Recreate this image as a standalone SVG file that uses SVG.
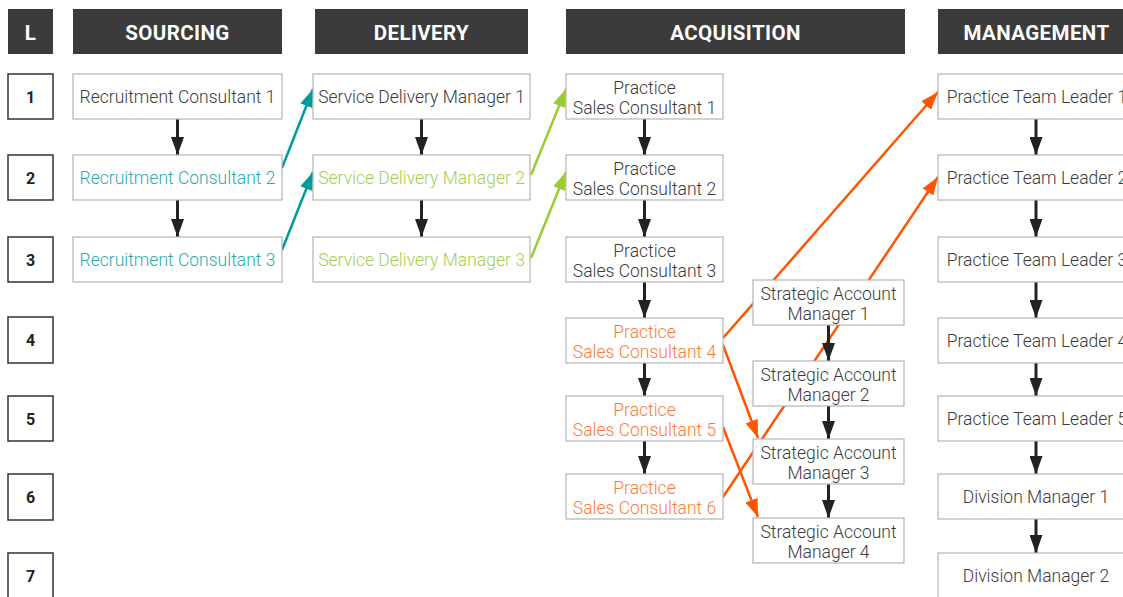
<svg xmlns="http://www.w3.org/2000/svg" width="1123" height="597" viewBox="0 0 1123 597">
<style>
.hdr{fill:#3b3b3b}
.hdrt{font-family:Roboto,"Liberation Sans",sans-serif;font-weight:700;font-size:20.5px;letter-spacing:0.4px;fill:#ffffff;text-anchor:middle}
.lvl{fill:#ffffff;stroke:#333333;stroke-width:1.5}
.lvlt{font-family:Roboto,"Liberation Sans",sans-serif;font-weight:700;font-size:16px;fill:#222222;text-anchor:middle}
.box{fill:#ffffff;stroke:#b5b5b5;stroke-width:1.2}
.t{font-family:Roboto,"Liberation Sans",sans-serif;font-weight:300;font-size:17.5px;fill:#3a3a3a;text-anchor:middle}
.teal{fill:#2aabab}
.green{fill:#a3cf4f}
.orange{fill:#ff7a3a}
.blk{stroke:#222222;stroke-width:3;fill:none;marker-end:url(#ab)}
.lt{stroke:#009c9c;stroke-width:2.5;fill:none;marker-end:url(#at)}
.lg{stroke:#9acd32;stroke-width:2.5;fill:none;marker-end:url(#ag)}
.lo{stroke:#ff5500;stroke-width:2.5;fill:none;marker-end:url(#ao)}
</style>
<defs>
<marker id="ab" markerUnits="userSpaceOnUse" markerWidth="18" markerHeight="13" refX="18" refY="6.5" orient="auto"><path d="M0,0 L18,6.5 L0,13 z" fill="#222222"/></marker>
<marker id="at" markerUnits="userSpaceOnUse" markerWidth="18" markerHeight="13" refX="18" refY="6.5" orient="auto"><path d="M0,0 L18,6.5 L0,13 z" fill="#009c9c"/></marker>
<marker id="ag" markerUnits="userSpaceOnUse" markerWidth="18" markerHeight="13" refX="18" refY="6.5" orient="auto"><path d="M0,0 L18,6.5 L0,13 z" fill="#9acd32"/></marker>
<marker id="ao" markerUnits="userSpaceOnUse" markerWidth="18" markerHeight="13" refX="18" refY="6.5" orient="auto"><path d="M0,0 L18,6.5 L0,13 z" fill="#ff5500"/></marker>
</defs>
<rect x="0" y="0" width="1123" height="597" fill="#ffffff"/>

<g id="headers">
<rect class="hdr" x="8" y="9" width="45" height="45"/><text class="hdrt" x="30.5" y="39.5">L</text>
<rect class="hdr" x="73" y="9" width="209" height="45"/><text class="hdrt" x="177.5" y="39.5">SOURCING</text>
<rect class="hdr" x="315" y="9" width="213" height="45"/><text class="hdrt" x="421.5" y="39.5">DELIVERY</text>
<rect class="hdr" x="566" y="9" width="339" height="45"/><text class="hdrt" x="735.5" y="39.5">ACQUISITION</text>
<rect class="hdr" x="938" y="9" width="200" height="45"/><text class="hdrt" x="1036.5" y="39.5">MANAGEMENT</text>
</g>

<g id="levels">
<g id="lvl1"><rect class="lvl" x="8" y="74" width="45" height="45"/><text class="lvlt" x="30.5" y="102.5">1</text></g>
<g id="lvl2"><rect class="lvl" x="8" y="155" width="45" height="45"/><text class="lvlt" x="30.5" y="183.5">2</text></g>
<g id="lvl3"><rect class="lvl" x="8" y="237" width="45" height="45"/><text class="lvlt" x="30.5" y="265.5">3</text></g>
<g id="lvl4"><rect class="lvl" x="8" y="317" width="45" height="46"/><text class="lvlt" x="30.5" y="346">4</text></g>
<g id="lvl5"><rect class="lvl" x="8" y="396" width="45" height="45"/><text class="lvlt" x="30.5" y="424.5">5</text></g>
<g id="lvl6"><rect class="lvl" x="8" y="474" width="45" height="46"/><text class="lvlt" x="30.5" y="503">6</text></g>
<g id="lvl7"><rect class="lvl" x="8" y="553" width="45" height="46"/><text class="lvlt" x="30.5" y="582">7</text></g>
</g>

<g id="connectors">
<line class="lo" x1="723" y1="338" x2="938" y2="92"/>
<line class="lo" x1="723" y1="497" x2="938" y2="177"/>
<line class="lo" x1="723" y1="345" x2="758" y2="438"/>
<line class="lo" x1="723" y1="427" x2="758" y2="517"/>
<line class="lt" x1="282" y1="168" x2="313" y2="89"/>
<line class="lt" x1="282" y1="250" x2="313" y2="172"/>
<line class="lg" x1="531" y1="175" x2="566" y2="89"/>
<line class="lg" x1="531" y1="258" x2="566" y2="172"/>
<line class="blk" x1="177.5" y1="119" x2="177.5" y2="155"/>
<line class="blk" x1="177.5" y1="200" x2="177.5" y2="237"/>
<line class="blk" x1="421.5" y1="119" x2="421.5" y2="155"/>
<line class="blk" x1="421.5" y1="200" x2="421.5" y2="237"/>
<line class="blk" x1="644.5" y1="119" x2="644.5" y2="155"/>
<line class="blk" x1="644.5" y1="200" x2="644.5" y2="237"/>
<line class="blk" x1="644.5" y1="282" x2="644.5" y2="318"/>
<line class="blk" x1="644.5" y1="363" x2="644.5" y2="396"/>
<line class="blk" x1="644.5" y1="441" x2="644.5" y2="474"/>
<line class="blk" x1="828.5" y1="325" x2="828.5" y2="361"/>
<line class="blk" x1="828.5" y1="406" x2="828.5" y2="439"/>
<line class="blk" x1="828.5" y1="484" x2="828.5" y2="518"/>
<line class="blk" x1="1036" y1="119" x2="1036" y2="155"/>
<line class="blk" x1="1036" y1="200" x2="1036" y2="237"/>
<line class="blk" x1="1036" y1="282" x2="1036" y2="318"/>
<line class="blk" x1="1036" y1="363" x2="1036" y2="396"/>
<line class="blk" x1="1036" y1="441" x2="1036" y2="474"/>
<line class="blk" x1="1036" y1="519" x2="1036" y2="553"/>
</g>

<g id="rc1"><rect class="box" x="73" y="74" width="209" height="45"/><text class="t" x="177.5" y="103">Recruitment Consultant 1</text></g>
<g id="rc2"><rect class="box" x="73" y="155" width="209" height="45"/><text class="t teal" x="177.5" y="184">Recruitment Consultant 2</text></g>
<g id="rc3"><rect class="box" x="73" y="237" width="209" height="45"/><text class="t teal" x="177.5" y="266">Recruitment Consultant 3</text></g>

<g id="sdm1"><rect class="box" x="313" y="74" width="217" height="45"/><text class="t" x="421.5" y="103">Service Delivery Manager 1</text></g>
<g id="sdm2"><rect class="box" x="313" y="155" width="217" height="45"/><text class="t green" x="421.5" y="184">Service Delivery Manager 2</text></g>
<g id="sdm3"><rect class="box" x="313" y="237" width="217" height="45"/><text class="t green" x="421.5" y="266">Service Delivery Manager 3</text></g>

<g id="psc1"><rect class="box" x="566" y="74" width="157" height="45"/><text class="t" x="644.5" y="93.5">Practice</text><text class="t" x="644.5" y="113.5">Sales Consultant 1</text></g>
<g id="psc2"><rect class="box" x="566" y="155" width="157" height="45"/><text class="t" x="644.5" y="174.5">Practice</text><text class="t" x="644.5" y="194.5">Sales Consultant 2</text></g>
<g id="psc3"><rect class="box" x="566" y="237" width="157" height="45"/><text class="t" x="644.5" y="256.5">Practice</text><text class="t" x="644.5" y="276.5">Sales Consultant 3</text></g>
<g id="psc4"><rect class="box" x="566" y="318" width="157" height="45"/><text class="t orange" x="644.5" y="337.5">Practice</text><text class="t orange" x="644.5" y="357.5">Sales Consultant 4</text></g>
<g id="psc5"><rect class="box" x="566" y="396" width="157" height="45"/><text class="t orange" x="644.5" y="415.5">Practice</text><text class="t orange" x="644.5" y="435.5">Sales Consultant 5</text></g>
<g id="psc6"><rect class="box" x="566" y="474" width="157" height="45"/><text class="t orange" x="644.5" y="493.5">Practice</text><text class="t orange" x="644.5" y="513.5">Sales Consultant 6</text></g>

<g id="sam1"><rect class="box" x="753" y="280" width="151" height="45"/><text class="t" x="828.5" y="299.5">Strategic Account</text><text class="t" x="828.5" y="319.5">Manager 1</text></g>
<g id="sam2"><rect class="box" x="753" y="361" width="151" height="45"/><text class="t" x="828.5" y="380.5">Strategic Account</text><text class="t" x="828.5" y="400.5">Manager 2</text></g>
<g id="sam3"><rect class="box" x="753" y="439" width="151" height="45"/><text class="t" x="828.5" y="458.5">Strategic Account</text><text class="t" x="828.5" y="478.5">Manager 3</text></g>
<g id="sam4"><rect class="box" x="753" y="518" width="151" height="45"/><text class="t" x="828.5" y="537.5">Strategic Account</text><text class="t" x="828.5" y="557.5">Manager 4</text></g>

<g id="ptl1"><rect class="box" x="938" y="74" width="198" height="45"/><text class="t" x="1037" y="103">Practice Team Leader 1</text></g>
<g id="ptl2"><rect class="box" x="938" y="155" width="198" height="45"/><text class="t" x="1037" y="184">Practice Team Leader 2</text></g>
<g id="ptl3"><rect class="box" x="938" y="237" width="198" height="45"/><text class="t" x="1037" y="266">Practice Team Leader 3</text></g>
<g id="ptl4"><rect class="box" x="938" y="318" width="198" height="45"/><text class="t" x="1037" y="347">Practice Team Leader 4</text></g>
<g id="ptl5"><rect class="box" x="938" y="396" width="198" height="45"/><text class="t" x="1037" y="425">Practice Team Leader 5</text></g>
<g id="dm1"><rect class="box" x="938" y="474" width="198" height="45"/><text class="t" x="1036" y="503">Division Manager 1</text></g>
<g id="dm2"><rect class="box" x="938" y="553" width="198" height="45"/><text class="t" x="1036" y="582">Division Manager 2</text></g>
</svg>
